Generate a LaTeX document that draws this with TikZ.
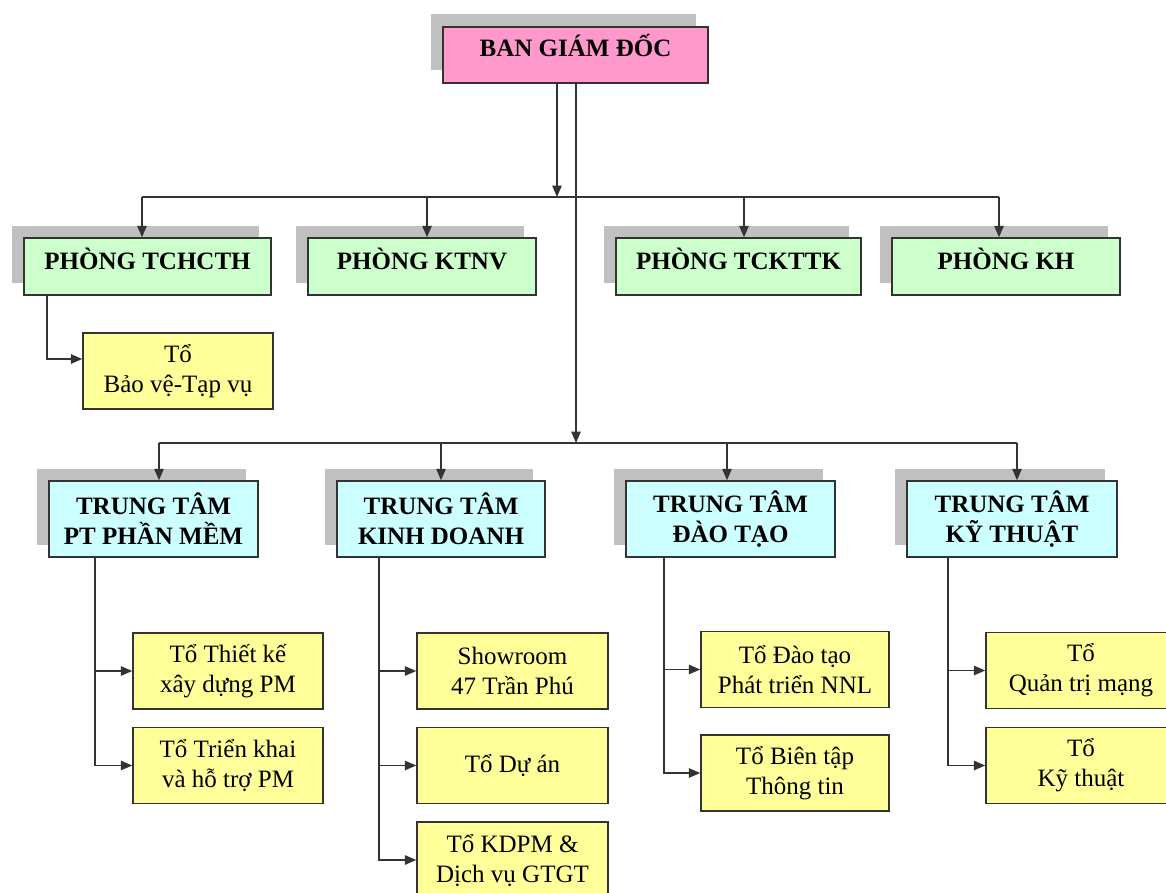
\documentclass[tikz,border=0pt]{standalone}
\usepackage{fontspec}
\setmainfont{Liberation Serif}
\usetikzlibrary{arrows.meta,shadows}

\definecolor{bgdpink}{HTML}{FF99CC}
\definecolor{phonggreen}{HTML}{CCFFCC}
\definecolor{ttcyan}{HTML}{CCFFFF}
\definecolor{toyellow}{HTML}{FFFF99}
\definecolor{shadowgray}{HTML}{C0C0C0}
\definecolor{linegray}{HTML}{333333}
\newcommand{\pxu}{0.75pt}

\begin{document}
\begin{tikzpicture}[x=0.75pt, y=-0.75pt,
  box/.style={draw=linegray, line width=1.1pt, inner sep=0pt, align=center,
    font=\fontsize{18.75}{22.5}\selectfont},
  boxsh/.style={box, general shadow={fill=shadowgray, shadow xshift=-12.5*\pxu, shadow yshift=12.5*\pxu}},
  headbox/.style={boxsh, fill=bgdpink, font=\fontsize{18.75}{22.5}\selectfont\bfseries,
    minimum width=265*\pxu, minimum height=56*\pxu, text height=18*\pxu, text depth=14*\pxu},
  phong/.style={boxsh, fill=phonggreen, font=\fontsize{18.75}{22.5}\selectfont\bfseries,
    minimum width=228*\pxu, minimum height=57*\pxu, text height=18*\pxu, text depth=13*\pxu},
  trungtam/.style={boxsh, fill=ttcyan, font=\fontsize{18.75}{22.5}\selectfont\bfseries,
    minimum width=209*\pxu, minimum height=76*\pxu},
  tobox/.style={box, fill=toyellow, minimum width=190*\pxu, minimum height=76*\pxu},
  line/.style={draw=linegray, line width=1.1pt},
  arr/.style={line, -{Triangle[length=8.5pt,width=7pt]}}]
\clip (0,0) rectangle (1166,892);
\fill[white] (0,0) rectangle (1166,892);

% ban giam doc
\node[headbox] (bgd) at (575.5,55) {BAN GIÁM ĐỐC};

% cac phong
\node[phong, minimum width=247*\pxu] (tchcth) at (147.5,266.5) {PHÒNG TCHCTH};
\node[phong] (ktnv) at (422,266.5) {PHÒNG KTNV};
\node[phong, minimum width=245*\pxu] (tckttk) at (738.5,266.5) {PHÒNG TCKTTK};
\node[phong] (kh) at (1006,266.5) {PHÒNG KH};
\node[tobox] (bv) at (178,371) {Tổ\\Bảo vệ-Tạp vụ};

% trung tam
\node[trungtam] (pt) at (153.5,519) {TRUNG TÂM\\PT PHẦN MỀM};
\node[trungtam, minimum width=208*\pxu] (kd) at (441,519) {TRUNG TÂM\\KINH DOANH};
\node[trungtam] (dt) at (730.5,519) {TRUNG TÂM\\ĐÀO TẠO};
\node[trungtam, minimum width=210*\pxu] (kt) at (1012,519) {TRUNG TÂM\\KỸ THUẬT};

% cac to
\node[tobox] (pt1) at (228,671) {Tổ Thiết kế\\xây dựng PM};
\node[tobox] (pt2) at (228,765.5) {Tổ Triển khai\\và hỗ trợ PM};
\node[tobox, minimum width=191*\pxu] (kd1) at (512.5,671) {Showroom\\47 Trần Phú};
\node[tobox, minimum width=191*\pxu] (kd2) at (512.5,765.5) {Tổ Dự án};
\node[tobox, minimum width=191*\pxu] (kd3) at (512.5,860) {Tổ KDPM \&\\Dịch vụ GTGT};
\node[tobox, minimum width=188*\pxu] (dt1) at (795,669.5) {Tổ Đào tạo\\Phát triển NNL};
\node[tobox, minimum width=188*\pxu] (dt2) at (795,773) {Tổ Biên tập\\Thông tin};
\node[tobox] (kt1) at (1081,670.5) {Tổ\\Quản trị mạng};
\node[tobox] (kt2) at (1081,765.5) {Tổ\\Kỹ thuật};

% duong noi
\coordinate (t1) at (557,197);
\coordinate (t2) at (576,443);
\coordinate (a1) at (142,197);
\coordinate (a2) at (427,197);
\coordinate (a3) at (744,197);
\coordinate (a4) at (999,197);
\coordinate (b1) at (159,443);
\coordinate (b2) at (441,443);
\coordinate (b3) at (727,443);
\coordinate (b4) at (1017,443);
\draw[arr] (t1 |- bgd.south) -- (t1);
\draw[arr] (t2 |- bgd.south) -- (t2);
\draw[line] (a1) -- (a4);
\draw[line] (b1) -- (b4);
\foreach \i/\n in {1/tchcth,2/ktnv,3/tckttk,4/kh}
  \draw[arr] (a\i) -- (a\i |- \n.north);
\foreach \i/\n in {1/pt,2/kd,3/dt,4/kt}
  \draw[arr] (b\i) -- (b\i |- \n.north);

\coordinate (c0) at (47,0);
\coordinate (c1) at (95,0);
\coordinate (c2) at (379,0);
\coordinate (c3) at (664,0);
\coordinate (c4) at (948,0);
\draw[arr] (c0 |- tchcth.south) |- ([yshift=12*\pxu]bv.west);
\draw[arr] (c1 |- pt.south) |- (pt1.west);
\draw[arr] (c1 |- pt.south) |- (pt2.west);
\draw[arr] (c2 |- kd.south) |- (kd1.west);
\draw[arr] (c2 |- kd.south) |- (kd2.west);
\draw[arr] (c2 |- kd.south) |- (kd3.west);
\draw[arr] (c3 |- dt.south) |- (dt1.west);
\draw[arr] (c3 |- dt.south) |- (dt2.west);
\draw[arr] (c4 |- kt.south) |- (kt1.west);
\draw[arr] (c4 |- kt.south) |- (kt2.west);
\end{tikzpicture}
\end{document}
